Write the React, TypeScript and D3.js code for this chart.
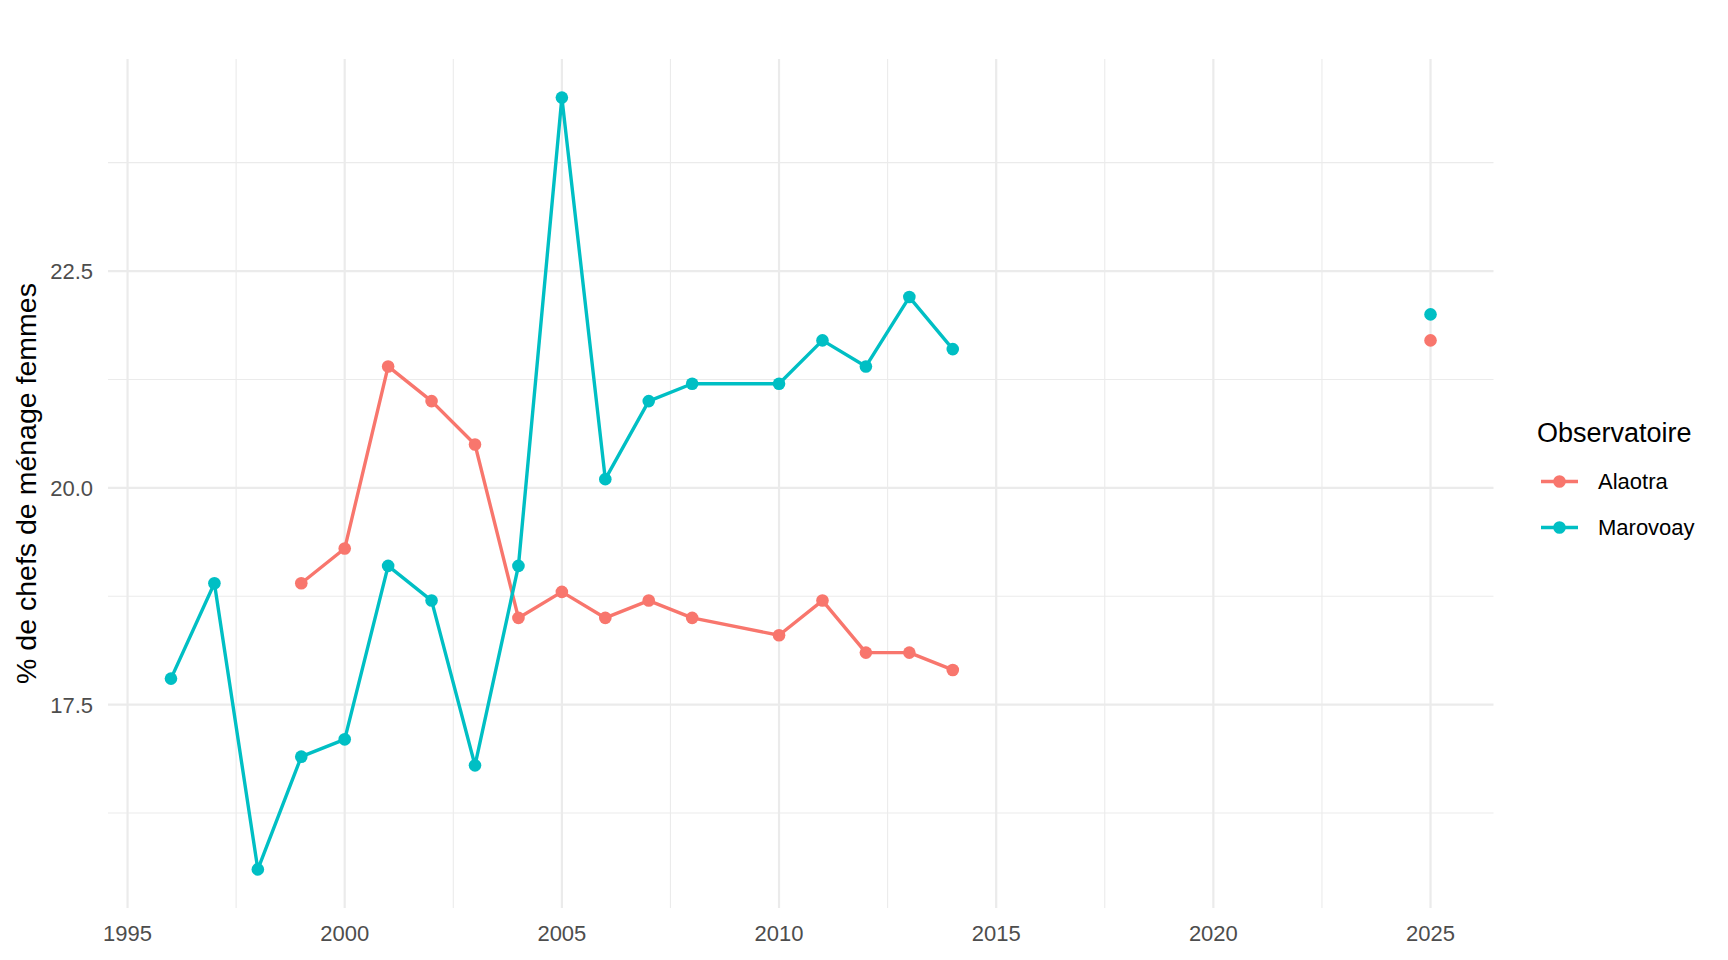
import React from "react";
import * as d3 from "d3";

const years = [1996, 1997, 1998, 1999, 2000, 2001, 2002, 2003, 2004, 2005, 2006, 2007, 2008, 2010, 2011, 2012, 2013, 2014, 2015, 2025];
// null = gap (no survey between 2015 and 2024)
const alaotra: (number | null)[] = [null, null, null, 18.9, 19.3, 21.4, 21.0, 20.5, 18.5, 18.8, 18.5, 18.7, 18.5, 18.3, 18.7, 18.1, 18.1, 17.9, null, 21.7];
const marovoay: (number | null)[] = [17.8, 18.9, 15.6, 16.9, 17.1, 19.1, 18.7, 16.8, 19.1, 24.5, 20.1, 21.0, 21.2, 21.2, 21.7, 21.4, 22.2, 21.6, null, 22.0];

const seriesNames = ["Alaotra", "Marovoay"];
const seriesColors = ["#F8766D", "#00BFC4"];
const xMajorTicks = [1995, 2000, 2005, 2010, 2015, 2020, 2025];
const xMinorTicks = [1997.5, 2002.5, 2007.5, 2012.5, 2017.5, 2022.5];
const yMajorTicks = [17.5, 20.0, 22.5];
const yMinorTicks = [16.25, 18.75, 21.25, 23.75];
const yTitle = "% de chefs de ménage femmes";
const legendTitle = "Observatoire";

export default function App() {
  const W = 1728, H = 960;
  const left = 108, right = 1493.5, top = 59, bottom = 908;
  const allVals = [...alaotra, ...marovoay].filter((v) => v != null) as number[];
  const [ymin, ymax] = d3.extent(allVals) as [number, number];
  const yExp = (ymax - ymin) * 0.05;
  const [xmin, xmax] = d3.extent(years) as [number, number];
  const xExp = (xmax - xmin) * 0.05;
  const x = d3.scaleLinear().domain([xmin - xExp, xmax + xExp]).range([left, right]);
  const y = d3.scaleLinear().domain([ymin - yExp, ymax + yExp]).range([bottom, top]);

  const series = [alaotra, marovoay].map((vals, i) => ({
    name: seriesNames[i],
    color: seriesColors[i],
    pts: years.map((yr, j) => ({ yr, v: vals[j] })),
  }));

  const line = d3
    .line<{ yr: number; v: number | null }>()
    .defined((d) => d.v != null)
    .x((d) => x(d.yr))
    .y((d) => y(d.v as number));

  const font = "Arial, 'Liberation Sans', sans-serif";
  const gridColor = "#ebebeb";

  return (
    <svg width={W} height={H} style={{ position: "absolute", left: 0, top: 0, display: "block", background: "#fff" }} fontFamily={font}>
      <rect x={0} y={0} width={W} height={H} fill="#fff" />
      {/* minor gridlines */}
      {xMinorTicks.map((t) => (
        <line key={"xm" + t} x1={x(t)} x2={x(t)} y1={top} y2={bottom} stroke={gridColor} strokeWidth={1.1} />
      ))}
      {yMinorTicks.map((t) => (
        <line key={"ym" + t} x1={left} x2={right} y1={y(t)} y2={y(t)} stroke={gridColor} strokeWidth={1.1} />
      ))}
      {/* major gridlines */}
      {xMajorTicks.map((t) => (
        <line key={"xM" + t} x1={x(t)} x2={x(t)} y1={top} y2={bottom} stroke={gridColor} strokeWidth={2.2} />
      ))}
      {yMajorTicks.map((t) => (
        <line key={"yM" + t} x1={left} x2={right} y1={y(t)} y2={y(t)} stroke={gridColor} strokeWidth={2.2} />
      ))}
      {/* tick labels */}
      {xMajorTicks.map((t) => (
        <text key={"xl" + t} x={x(t)} y={941} textAnchor="middle" fontSize={22} fill="#4d4d4d">
          {t}
        </text>
      ))}
      {yMajorTicks.map((t) => (
        <text key={"yl" + t} x={93} y={y(t)} dy="0.36em" textAnchor="end" fontSize={22} fill="#4d4d4d">
          {d3.format(".1f")(t)}
        </text>
      ))}
      {/* axis title */}
      <text transform={`translate(36,${(top + bottom) / 2}) rotate(-90)`} textAnchor="middle" fontSize={28.5} fill="#000">
        {yTitle}
      </text>
      {/* series */}
      {series.map((s) => (
        <g key={s.name}>
          <path d={line(s.pts) || ""} fill="none" stroke={s.color} strokeWidth={3.4} strokeLinejoin="round" />
          {s.pts
            .filter((p) => p.v != null)
            .map((p) => (
              <circle key={p.yr} cx={x(p.yr)} cy={y(p.v as number)} r={6.3} fill={s.color} />
            ))}
        </g>
      ))}
      {/* legend */}
      <text x={1537} y={442} fontSize={27} fill="#000">
        {legendTitle}
      </text>
      {series.map((s, i) => {
        const cy = 481.5 + i * 46;
        return (
          <g key={"lg" + s.name}>
            <line x1={1541} x2={1578} y1={cy} y2={cy} stroke={s.color} strokeWidth={3.4} />
            <circle cx={1559.5} cy={cy} r={6.3} fill={s.color} />
            <text x={1598} y={cy} dy="0.36em" fontSize={22} fill="#000">
              {s.name}
            </text>
          </g>
        );
      })}
    </svg>
  );
}
